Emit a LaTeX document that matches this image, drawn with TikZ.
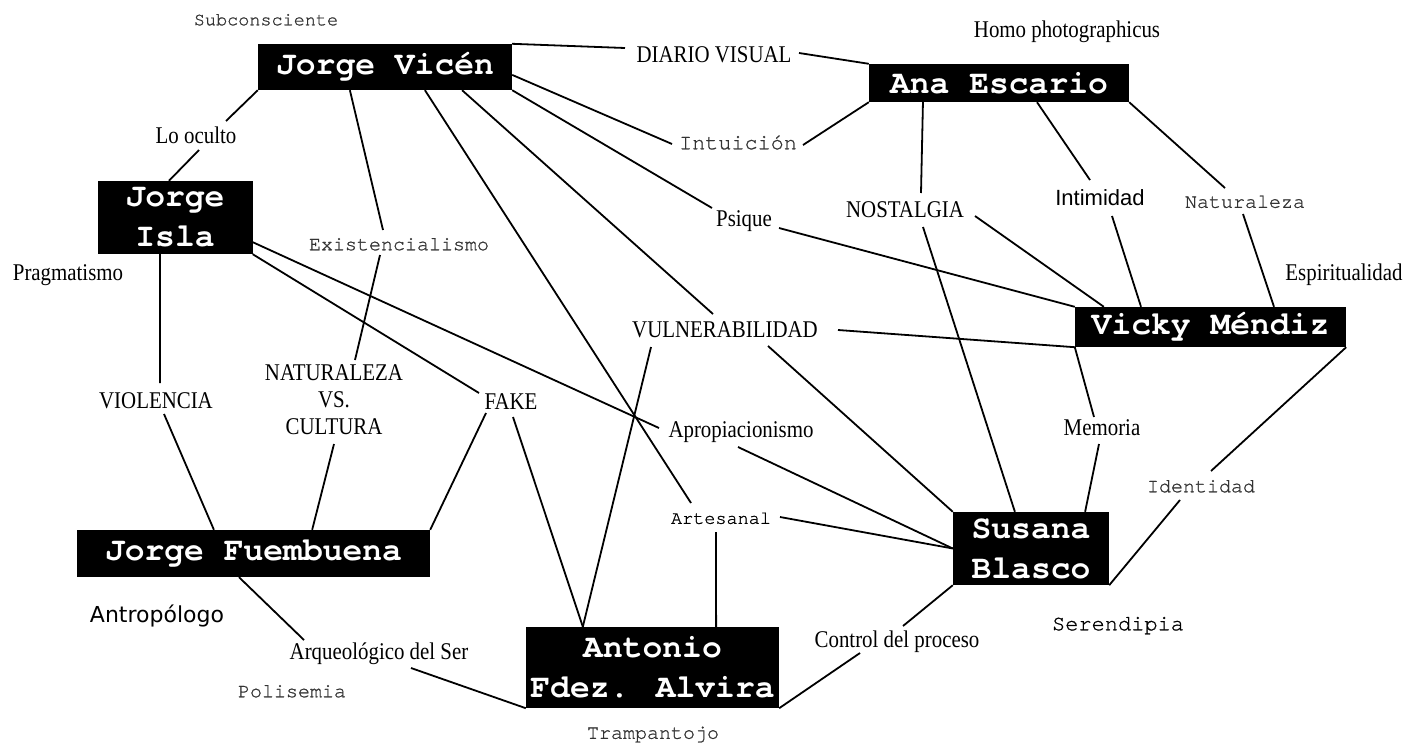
\documentclass[tikz,border=0pt]{standalone}
\usepackage{fontspec}
\setmainfont{Liberation Serif}
\newfontfamily\fser[FakeStretch=0.87]{Liberation Serif}
\newfontfamily\fmono{texgyrecursor}[Extension=.otf,UprightFont=*-regular,BoldFont=*-bold]
\newfontfamily\fmonol{texgyrecursor}[Extension=.otf,UprightFont=*-regular,FakeBold=0.9]
\newfontfamily\fsansl{Liberation Sans}
\newfontfamily\fdejavu{DejaVu Sans}
\usetikzlibrary{calc}
\definecolor{labgray}{gray}{0.2}
\begin{document}
\begin{tikzpicture}[x=1pt,y=-1pt,
  namebox/.style={fill=black,text=white,inner sep=0pt,align=center,
    font=\fmono\bfseries\fontsize{33}{40}\selectfont},
  slab/.style={inner sep=0pt,text depth=0pt,text height=15.9pt,
    font=\fser\fontsize{24}{27}\selectfont},
  mlab/.style={inner sep=0pt,text depth=0pt,text height=11.5pt,text=labgray,
    font=\fmonol\fontsize{20}{22}\selectfont},
  conn/.style={line width=1.8pt,black}]
\fill[white] (0,0) rectangle (1422,747);
\useasboundingbox (0,0) rectangle (1422,747);

% person boxes
\node[namebox,minimum width=254pt,minimum height=46pt] (jv) at (385,67) {Jorge Vicén};
\node[namebox,minimum width=155pt,minimum height=73pt] (ji) at (175,217.5) {Jorge\\Isla};
\node[namebox,minimum width=260pt,minimum height=38pt] (ae) at (999,83) {Ana Escario};
\node[namebox,minimum width=271pt,minimum height=40pt] (vm) at (1210.5,327) {Vicky Méndiz};
\node[namebox,minimum width=353pt,minimum height=47pt] (jf) at (253.5,553.5) {Jorge Fuembuena};
\node[namebox,minimum width=156pt,minimum height=73pt] (sb) at (1031,548.5) {Susana\\Blasco};
\node[namebox,minimum width=253pt,minimum height=81pt] (afa) at (652.5,667.5) {Antonio\\Fdez. Alvira};

% serif labels
\node[slab] (loo) at (196,135.5) {Lo oculto};
\node[slab] (pra) at (68,273) {Pragmatismo};
\node[slab] (hom) at (1067,29.5) {Homo photographicus};
\node[slab] (dia) at (714,54.5) {DIARIO VISUAL};
\node[slab] (nos) at (905,209.5) {NOSTALGIA};
\node[slab] (psi) at (744,218.5) {Psique};
\node[slab] (esp) at (1344,273) {Espiritualidad};
\node[slab] (vul) at (725,330) {VULNERABILIDAD};
\node[inner sep=0pt,align=center,font=\fser\fontsize{24}{27}\selectfont] (nvc) at (334,400) {NATURALEZA\\VS.\\CULTURA};
\node[slab] (vio) at (156,400.5) {VIOLENCIA};
\node[slab] (fak) at (511,402) {FAKE};
\node[slab] (apr) at (741,429.5) {Apropiacionismo};
\node[slab] (mem) at (1102,428) {Memoria};
\node[slab] (arq) at (379,651.5) {Arqueológico del Ser};
\node[slab] (ctl) at (897,640) {Control del proceso};

% sans labels
\node[inner sep=0pt,text depth=0pt,text height=15.8pt,font=\fsansl\fontsize{22}{24}\selectfont] (inti) at (1100,197.5) {Intimidad};
\node[inner sep=0pt,text depth=0pt,text height=16pt,font=\fdejavu\fontsize{22}{24}\selectfont] (ant) at (157,614.5) {Antropólogo};

% mono labels
\node[mlab,text height=10.6pt,font=\fmonol\fontsize{18.5}{20}\selectfont] (sub) at (266,20) {Subconsciente};
\node[mlab] (exi) at (399,244.5) {Existencialismo};
\node[mlab,text height=12.5pt,font=\fmonol\fontsize{21.8}{24}\selectfont] (intu) at (738,143) {Intuición};
\node[mlab] (nat) at (1245,202) {Naturaleza};
\node[mlab] (ide) at (1201,486.5) {Identidad};
\node[mlab] (pol) at (292,691.5) {Polisemia};
\node[mlab] (tra) at (653,733) {Trampantojo};
\node[mlab,text=black,text height=10.6pt,font=\fmonol\fontsize{18.5}{20}\selectfont] (art) at (721,518.5) {Artesanal};
\node[mlab,text=black,text height=12.6pt,font=\fmonol\fontsize{22}{24}\selectfont] (ser) at (1118,624) {Serendipia};

% connectors
\draw[conn] (jv.north east) -- ([shift={(-89,-6.5)}]dia.center);
\draw[conn] ([shift={(85,-1.5)}]dia.center) -- (ae.north west);
\draw[conn] ($(jv.north east)!0.67!(jv.south east)$) -- ([shift={(-66,1)}]intu.center);
\draw[conn] ([shift={(65,2)}]intu.center) -- (ae.south west);
\draw[conn] (jv.south east) -- ([shift={(-32,-10.5)}]psi.center);
\draw[conn] ($(jv.south west)!0.803!(jv.south east)$) -- ([shift={(-12,-16)}]vul.center);
\draw[conn] ($(jv.south west)!0.657!(jv.south east)$) -- ([shift={(-30,-15.5)}]art.center);
\draw[conn] ($(jv.south west)!0.362!(jv.south east)$) -- ([shift={(-16,-14.5)}]exi.center);
\draw[conn] (jv.south west) -- ([shift={(30,-14.5)}]loo.center);
\draw[conn] ([shift={(3,14.5)}]loo.center) -- ($(ji.north west)!0.461!(ji.north east)$);
\draw[conn] ([shift={(-19,10.5)}]exi.center) -- ([shift={(21,-40)}]nvc.center);
\draw[conn] ([shift={(0,44)}]nvc.center) -- ($(jf.north west)!0.666!(jf.north east)$);
\draw[conn] ($(ji.south west)!0.403!(ji.south east)$) -- ([shift={(4,-17.5)}]vio.center);
\draw[conn] ([shift={(8,13.5)}]vio.center) -- ($(jf.north west)!0.388!(jf.north east)$);
\draw[conn] ($(ji.north east)!0.836!(ji.south east)$) -- ([shift={(-82,-1.5)}]apr.center);
\draw[conn] ([shift={(-3,17.5)}]apr.center) -- (sb.west);
\draw[conn] (ji.south east) -- ([shift={(-32,-9)}]fak.center);
\draw[conn] ([shift={(-25,11)}]fak.center) -- (jf.north east);
\draw[conn] ([shift={(2,15)}]fak.center) -- ($(afa.north west)!0.225!(afa.north east)$);
\draw[conn] ([shift={(-5,13.5)}]art.center) -- ($(afa.north west)!0.751!(afa.north east)$);
\draw[conn] ([shift={(59,-1.5)}]art.center) -- (sb.west);
\draw[conn] ([shift={(-74,17)}]vul.center) -- ($(afa.north west)!0.225!(afa.north east)$);
\draw[conn] ([shift={(43,16)}]vul.center) -- (sb.north west);
\draw[conn] ([shift={(113,0)}]vul.center) -- (vm.south west);
\draw[conn] ([shift={(35,9.5)}]psi.center) -- (vm.north west);
\draw[conn] ($(ae.south west)!0.208!(ae.south east)$) -- ([shift={(16,-16.5)}]nos.center);
\draw[conn] ([shift={(18,17.5)}]nos.center) -- ($(sb.north west)!0.397!(sb.north east)$);
\draw[conn] ([shift={(70,6.5)}]nos.center) -- ($(vm.north west)!0.107!(vm.north east)$);
\draw[conn] ($(ae.south west)!0.646!(ae.south east)$) -- ([shift={(-10,-17.5)}]inti.center);
\draw[conn] ([shift={(12,18.5)}]inti.center) -- ($(vm.north west)!0.244!(vm.north east)$);
\draw[conn] (ae.south east) -- ([shift={(-20,-14)}]nat.center);
\draw[conn] ([shift={(-2,12)}]nat.center) -- ($(vm.north west)!0.734!(vm.north east)$);
\draw[conn] (vm.south west) -- ([shift={(-8,-11)}]mem.center);
\draw[conn] ([shift={(-3,16)}]mem.center) -- ($(sb.north west)!0.846!(sb.north east)$);
\draw[conn] (vm.south east) -- ([shift={(10,-15.5)}]ide.center);
\draw[conn] ([shift={(-21,13.5)}]ide.center) -- (sb.south east);
\draw[conn] (sb.south west) -- ([shift={(6,-14)}]ctl.center);
\draw[conn] ([shift={(-37,13)}]ctl.center) -- (afa.south east);
\draw[conn] (afa.south west) -- ([shift={(32,16.5)}]arq.center);
\draw[conn] ([shift={(-75,-11.5)}]arq.center) -- ($(jf.south west)!0.459!(jf.south east)$);
\end{tikzpicture}
\end{document}
